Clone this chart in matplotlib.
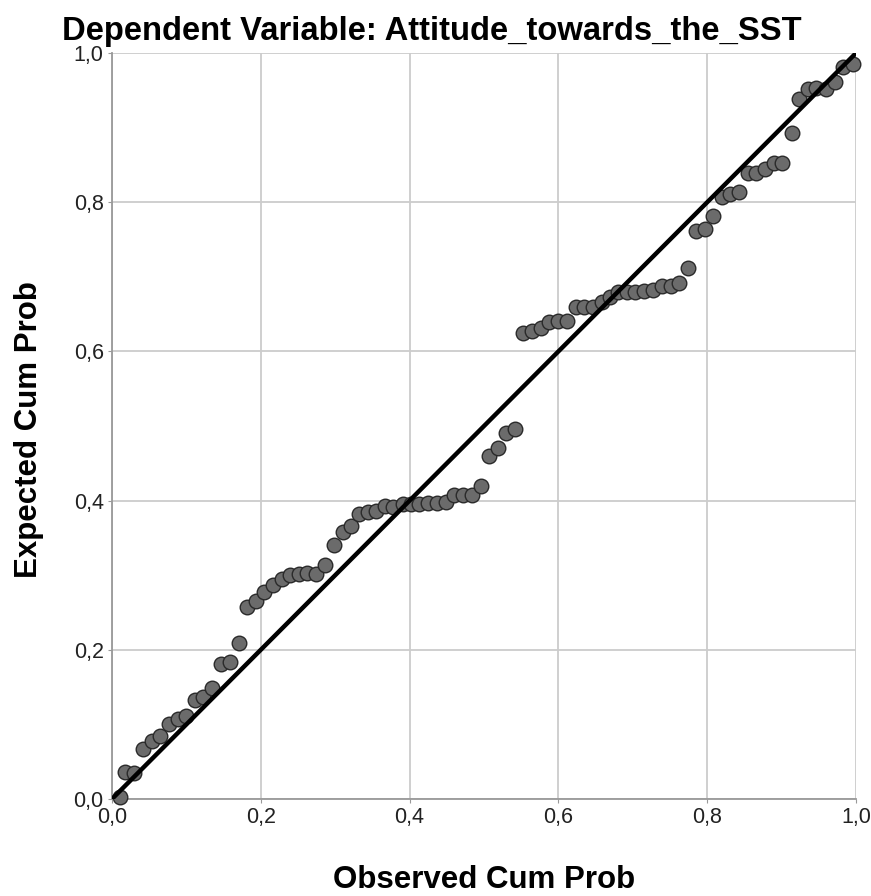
import matplotlib
matplotlib.use("Agg")
import matplotlib.pyplot as plt

# Observed vs expected cumulative probabilities (P-P plot)
observed = [0.011, 0.018, 0.029, 0.042, 0.054, 0.064, 0.077, 0.089, 0.100, 0.112,
            0.122, 0.135, 0.146, 0.159, 0.171, 0.181, 0.193, 0.204, 0.216, 0.228,
            0.239, 0.251, 0.262, 0.274, 0.286, 0.298, 0.310, 0.321, 0.332, 0.344,
            0.355, 0.367, 0.378, 0.391, 0.402, 0.413, 0.425, 0.437, 0.449, 0.460,
            0.472, 0.484, 0.496, 0.507, 0.519, 0.530, 0.542, 0.553, 0.565, 0.577,
            0.587, 0.600, 0.611, 0.624, 0.634, 0.646, 0.659, 0.669, 0.680, 0.692,
            0.703, 0.715, 0.727, 0.739, 0.751, 0.762, 0.774, 0.785, 0.797, 0.808,
            0.820, 0.831, 0.843, 0.855, 0.866, 0.878, 0.890, 0.901, 0.914, 0.923,
            0.935, 0.946, 0.960, 0.972, 0.983, 0.996]
expected = [0.003, 0.036, 0.035, 0.067, 0.078, 0.085, 0.100, 0.107, 0.111, 0.133,
            0.137, 0.149, 0.181, 0.184, 0.209, 0.257, 0.265, 0.277, 0.287, 0.295,
            0.300, 0.302, 0.303, 0.302, 0.314, 0.340, 0.358, 0.366, 0.382, 0.385,
            0.386, 0.393, 0.392, 0.395, 0.395, 0.395, 0.397, 0.397, 0.398, 0.408,
            0.408, 0.408, 0.420, 0.460, 0.470, 0.491, 0.496, 0.625, 0.627, 0.631,
            0.639, 0.641, 0.641, 0.660, 0.660, 0.660, 0.666, 0.673, 0.680, 0.680,
            0.680, 0.681, 0.682, 0.688, 0.688, 0.692, 0.712, 0.761, 0.764, 0.781,
            0.807, 0.811, 0.814, 0.839, 0.839, 0.844, 0.853, 0.853, 0.893, 0.938,
            0.952, 0.953, 0.952, 0.961, 0.981, 0.985]
ticks = [0.0, 0.2, 0.4, 0.6, 0.8, 1.0]
tick_labels = ["0,0", "0,2", "0,4", "0,6", "0,8", "1,0"]

plt.rcParams['font.family'] = ['Liberation Sans', 'DejaVu Sans']

fig = plt.figure(figsize=(8.71, 8.96), dpi=100)
ax = fig.add_axes([0.1286, 0.1083, 0.8542, 0.8325])

ax.grid(True, color='#cccccc', linewidth=1.3)
ax.set_axisbelow(True)

ax.scatter(observed, expected, s=110, facecolor='#6b6b6b', edgecolor='#2a2a2a',
           linewidth=1.0, zorder=3, clip_on=False)
ax.plot([0, 1], [0, 1], color='black', linewidth=3.2, zorder=4,
        solid_capstyle='butt')

ax.set_xlim(0, 1)
ax.set_ylim(0, 1)
ax.set_xticks(ticks)
ax.set_xticklabels(tick_labels)
ax.set_yticks(ticks)
ax.set_yticklabels(tick_labels)
ax.tick_params(labelsize=15.5, colors='#222222', length=3, color='#999999', pad=3)

for side in ['left', 'bottom']:
    ax.spines[side].set_color('#999999')
    ax.spines[side].set_linewidth(1.3)
for side in ['top', 'right']:
    ax.spines[side].set_visible(False)

fig.text(62 / 871, 1 - 40 / 896, "Dependent Variable: Attitude_towards_the_SST",
         fontsize=23.6, fontweight='bold', color='black', ha='left', va='baseline')

ax.set_xlabel("Observed Cum Prob", fontsize=22.5, fontweight='bold', va='top')
ax.xaxis.set_label_coords(0.5, -0.089)
ax.set_ylabel("Expected Cum Prob", fontsize=22.5, fontweight='bold', va='center')
ax.yaxis.set_label_coords(-0.112, 0.495)

fig.savefig("out.png", dpi=100)
